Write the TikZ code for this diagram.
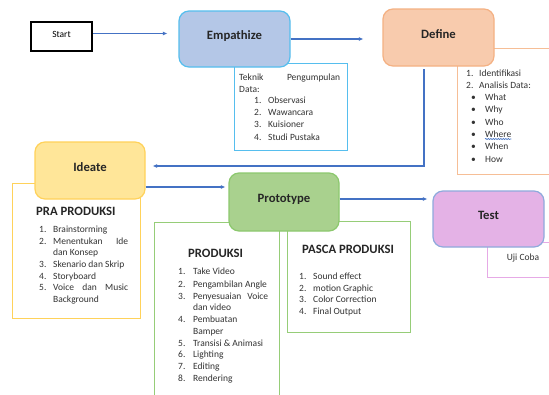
\documentclass[tikz,border=0pt]{standalone}
\usepackage{fontspec}
\setmainfont{Carlito}
\usetikzlibrary{arrows.meta,decorations.pathmorphing}
\definecolor{arrowblue}{RGB}{68,114,196}
\definecolor{empfill}{RGB}{180,199,231}
\definecolor{empline}{RGB}{86,190,238}
\definecolor{deffill}{RGB}{248,203,173}
\definecolor{defline}{RGB}{244,177,131}
\definecolor{defbox}{RGB}{246,190,150}
\definecolor{idefill}{RGB}{255,230,153}
\definecolor{ideline}{RGB}{255,210,90}
\definecolor{profill}{RGB}{169,209,142}
\definecolor{proline}{RGB}{140,200,110}
\definecolor{probox}{RGB}{150,205,120}
\definecolor{testfill}{RGB}{228,178,230}
\definecolor{testline}{RGB}{143,170,220}
\definecolor{testbox}{RGB}{230,170,230}
\begin{document}
\begin{tikzpicture}[x=1pt,y=-1pt,
  title/.style={rounded corners=10pt, line width=1.2pt, inner sep=0pt,
    minimum width=111pt, minimum height=57pt, text height=9pt, text depth=7.5pt,
    font=\fontsize{12.7}{15}\selectfont\bfseries, text=black!85},
  infobox/.style={draw, line width=0.9pt, inner sep=0pt, fill=white},
  txt/.style={anchor=base west, inner sep=0pt, font=\fontsize{9.5}{11}\selectfont, text=black!80},
  head/.style={anchor=base west, inner sep=0pt, font=\fontsize{12.7}{15}\selectfont\bfseries, text=black!85},
  arr/.style={draw=arrowblue, line width=1.2pt, -{Latex[length=4.5pt,width=4pt]}}]
\useasboundingbox (0,0) rectangle (549,394);
\clip (0,0) rectangle (549,394);
\fill[white] (0,0) rectangle (549,394);

% info boxes (behind titles)
\node[infobox, draw=empline, minimum width=113pt, minimum height=87pt] (empbox) at (290.5,106.5) {};
\node[infobox, draw=defbox, minimum width=95pt, minimum height=126pt] (defbx) at (504.5,111) {};
\node[infobox, draw=ideline, minimum width=128pt, minimum height=135pt] (idebox) at (76,250.5) {};
\node[infobox, draw=probox, minimum width=125pt, minimum height=178pt] (prodbox) at (216.5,311) {};
\node[infobox, draw=probox, minimum width=123pt, minimum height=111pt] (pascabox) at (348.5,276.5) {};
\node[infobox, draw=testbox, minimum width=65pt, minimum height=35pt] (testbx) at (519.5,259.5) {};

% title nodes
\node[draw=black, line width=1.5pt, minimum width=61pt, minimum height=29pt, inner sep=0pt,
  text height=7pt, text depth=5pt, font=\fontsize{9.5}{11}\selectfont] (start) at (61.5,36.5) {Start};
\node[title, draw=empline, fill=empfill, minimum height=56pt] (emp) at (234.5,39) {Empathize};
\node[title, draw=defline, fill=deffill] (def) at (438.5,37.5) {Define};
\node[title, draw=ideline, fill=idefill, minimum width=110pt] (ide) at (90,170.5) {Ideate};
\node[title, draw=proline, fill=profill, minimum width=110pt, minimum height=58pt] (pro) at (284,202) {Prototype};
\node[title, draw=testline, fill=testfill, minimum height=56pt] (test) at (488.5,219) {Test};

% connectors
\draw[arr, shorten >=11pt] ([yshift=3pt]start.east) -- ([yshift=3pt]start.east -| emp.west);
\draw[arr, shorten >=19pt] (emp.east) -- (emp.east -| def.west);
\coordinate (dl) at (424,69);
\draw[arr, shorten >=7pt] (dl) |- ([yshift=4.5pt]ide.east);
\draw[arr, shorten >=3pt] ([yshift=-16.5pt]ide.east) -- ([yshift=-16.5pt]ide.east -| pro.west);
\draw[arr, shorten >=5pt] ([yshift=3pt]pro.east) -- ([yshift=3pt]pro.east -| test.west);

% Empathize text
\node[txt] (et1) at (239,80) {\makebox[101pt][s]{Teknik Pengumpulan}};
\node[txt] (et2) at (239,92) {Data:};
\foreach \n/\t/\y [count=\i] in {1/Observasi/103, 2/Wawancara/115, 3/Kuisioner/127, 4/Studi Pustaka/140}
  \node[txt] (el\i) at (254,\y) {\makebox[14pt][l]{\n.}\t};

% Define text
\node[txt] (dt1) at (466,76) {\makebox[13pt][l]{1.}Identifikasi};
\node[txt] (dt2) at (466,88) {\makebox[13pt][l]{2.}Analisis Data:};
\foreach \t/\y [count=\i] in {What/100, Why/112, Who/125, Where/137, When/149, How/162}
  \node[txt] (db\i) at (471,\y) {\makebox[14pt][l]{•}\t};
\node[txt] (dwhere) at (485,137) {\phantom{Where}};
\draw[decorate, decoration={snake, amplitude=0.6pt, segment length=2.5pt}, arrowblue, line width=0.6pt]
  ([yshift=-2pt]dwhere.base west) -- ([yshift=-2pt]dwhere.base east);

% Ideate text
\node[head] (ih) at (36,215) {PRA PRODUKSI};
\node[txt] (i1) at (39,232) {\makebox[14pt][l]{1.}Brainstorming};
\node[txt] (i2) at (39,244) {\makebox[14pt][l]{2.}\makebox[75pt][s]{Menentukan Ide}};
\node[txt] (i2b) at (53,255) {dan Konsep};
\node[txt] (i3) at (39,267) {\makebox[14pt][l]{3.}Skenario dan Skrip};
\node[txt] (i4) at (39,279) {\makebox[14pt][l]{4.}Storyboard};
\node[txt] (i5) at (39,290) {\makebox[14pt][l]{5.}\makebox[75pt][s]{Voice dan Music}};
\node[txt] (i5b) at (53,302) {Background};

% Produksi text
\node[head] (ph) at (188,257) {PRODUKSI};
\node[txt] (p1) at (178,274) {\makebox[15pt][l]{1.}Take Video};
\node[txt] (p2) at (178,287) {\makebox[15pt][l]{2.}Pengambilan Angle};
\node[txt] (p3) at (178,299) {\makebox[15pt][l]{3.}\makebox[75pt][s]{Penyesuaian Voice}};
\node[txt] (p3b) at (193,310) {dan video};
\node[txt] (p4) at (178,322) {\makebox[15pt][l]{4.}Pembuatan};
\node[txt] (p4b) at (193,334) {Bamper};
\node[txt] (p5) at (178,346) {\makebox[15pt][l]{5.}Transisi \& Animasi};
\node[txt] (p6) at (178,357) {\makebox[15pt][l]{6.}Lighting};
\node[txt] (p7) at (178,369) {\makebox[15pt][l]{7.}Editing};
\node[txt] (p8) at (178,381) {\makebox[15pt][l]{8.}Rendering};

% Pasca text
\node[head] (qh) at (302,253) {PASCA PRODUKSI};
\foreach \n/\t/\y [count=\i] in {1/Sound effect/279, 2/motion Graphic/291, 3/Color Correction/302, 4/Final Output/314}
  \node[txt] (q\i) at (299,\y) {\makebox[14pt][l]{\n.}\t};

% Test text
\node[txt, anchor=base] (tt) at (523,260) {Uji Coba};
\end{tikzpicture}
\end{document}
